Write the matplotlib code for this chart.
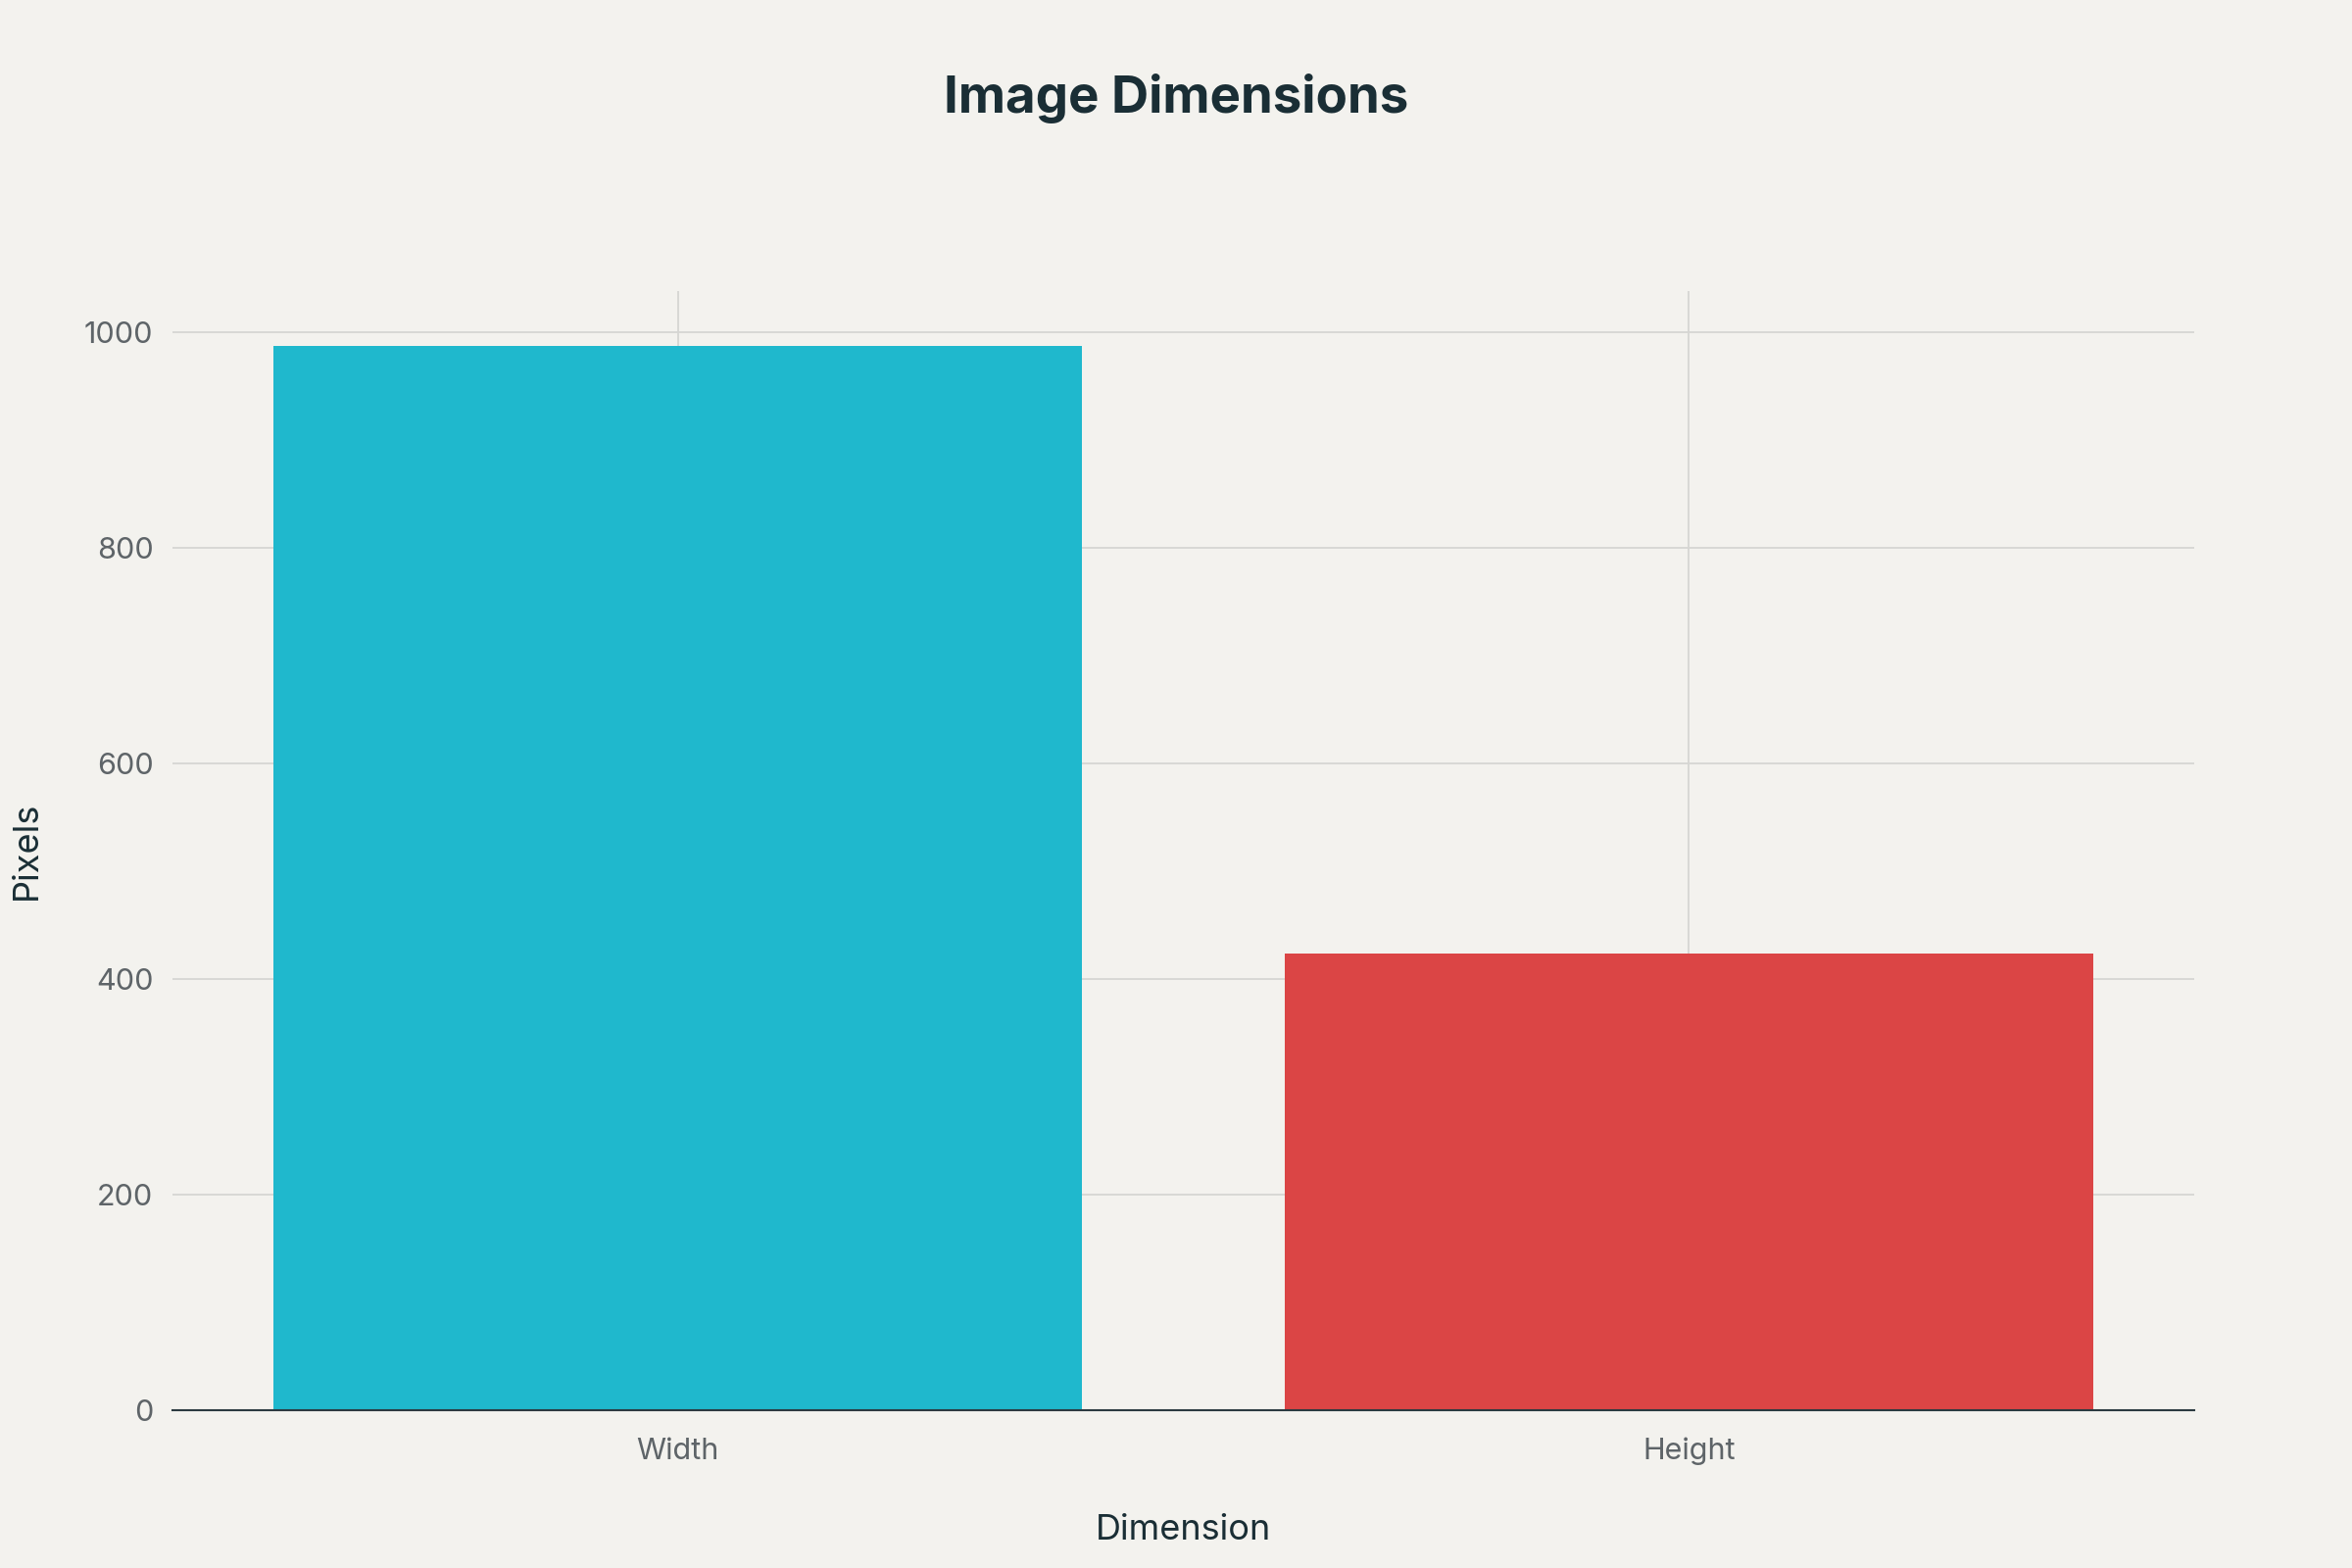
import matplotlib
matplotlib.use('Agg')
from matplotlib import pyplot as plt

dimensions = ['Width', 'Height']
pixels = [987, 424]
bar_colors = ['#1FB8CD', '#DB4545']

BG = '#F3F2EE'

plt.rcParams['font.family'] = ['Inter', 'DejaVu Sans']

fig = plt.figure(figsize=(24, 16), dpi=100, facecolor=BG)
ax = fig.add_axes([0.0733, 0.1006, 0.8597, 0.7137])
ax.set_facecolor(BG)

x = list(range(len(dimensions)))
ax.bar(x, pixels, width=0.8, color=bar_colors, zorder=2)

ax.set_xlim(-0.5, 1.5)
ax.set_ylim(0, 1038)
ax.set_yticks([0, 200, 400, 600, 800, 1000])
ax.set_xticks(x)
ax.set_xticklabels(dimensions)

ax.grid(True, color='#D6D6D3', linewidth=1.3, zorder=0)
for side in ['top', 'right', 'left']:
    ax.spines[side].set_visible(False)
ax.spines['bottom'].set_color('#2B3A40')
ax.spines['bottom'].set_linewidth(1.5)
ax.spines['bottom'].set_zorder(3)

ax.tick_params(axis='both', length=0, labelsize=22, labelcolor='#5E6468')
ax.tick_params(axis='x', pad=20)
ax.tick_params(axis='y', pad=14)

ax.set_xlabel('Dimension', fontsize=26, color='#1A2E35', labelpad=36)
ax.set_ylabel('Pixels', fontsize=26, color='#1A2E35', labelpad=30)

fig.text(0.5, 0.937, 'Image Dimensions', ha='center', va='center',
         fontsize=38, fontweight='bold', color='#1A2E35')

fig.savefig('out.png', dpi=100, facecolor=BG)
